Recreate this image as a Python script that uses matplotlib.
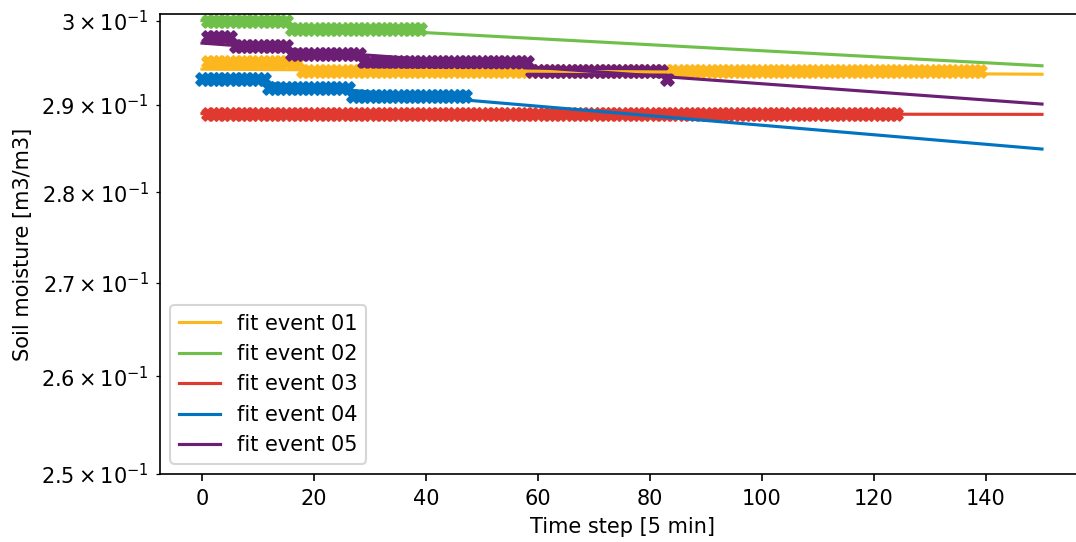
import numpy as np
import matplotlib
matplotlib.use("Agg")
import matplotlib.pyplot as plt

# Observed soil moisture: runs of (first step, last step, value)
obs_event01 = [(1, 17, 0.295), (18, 139, 0.294)]
obs_event02 = [(1, 15, 0.300), (16, 39, 0.299)]
obs_event03 = [(1, 124, 0.289)]
obs_event04 = [(0, 11, 0.293), (12, 26, 0.292), (27, 47, 0.291)]
obs_event05 = [(1, 5, 0.298), (6, 15, 0.297), (16, 28, 0.296),
               (29, 58, 0.295), (59, 82, 0.294), (83, 83, 0.293)]

# Fitted curves: value at the first and last time step
fit_steps = [0, 150]
fit_event01 = [0.2942, 0.2936]
fit_event02 = [0.3000, 0.2946]
fit_event03 = [0.2890, 0.2889]
fit_event04 = [0.2932, 0.2849]
fit_event05 = [0.2973, 0.2901]

labels = ["fit event 01", "fit event 02", "fit event 03", "fit event 04", "fit event 05"]
colors = ["#FDB71E", "#6FC04B", "#E0392F", "#0073C2", "#6C1D74"]

observations = [obs_event01, obs_event02, obs_event03, obs_event04, obs_event05]
fits = [fit_event01, fit_event02, fit_event03, fit_event04, fit_event05]

fig = plt.figure(figsize=(1076 / 150, 542 / 150), dpi=150)
ax = fig.add_axes([160 / 1076, (542 - 474) / 542, (1084 - 160) / 1076, (474 - 14) / 542])

for runs, c in zip(observations, colors):
    t = np.concatenate([np.arange(a, b + 1) for a, b, v in runs])
    y = np.concatenate([np.full(b - a + 1, v) for a, b, v in runs])
    ax.scatter(t, y, marker="X", s=36, color=c)

for fit, c, lab in zip(fits, colors, labels):
    ax.plot(fit_steps, fit, color=c, label=lab, lw=1.5)

ax.set_yscale("log")
ax.set_xlim(-7.5, 157.5)
ax.set_ylim(0.25, 0.3008)
ax.set_xticks([0, 20, 40, 60, 80, 100, 120, 140])
ax.set_xlabel("Time step [5 min]")
ax.set_ylabel("Soil moisture [m3/m3]")
ax.legend(loc="lower left")

fig.savefig("out.png", dpi=150)
